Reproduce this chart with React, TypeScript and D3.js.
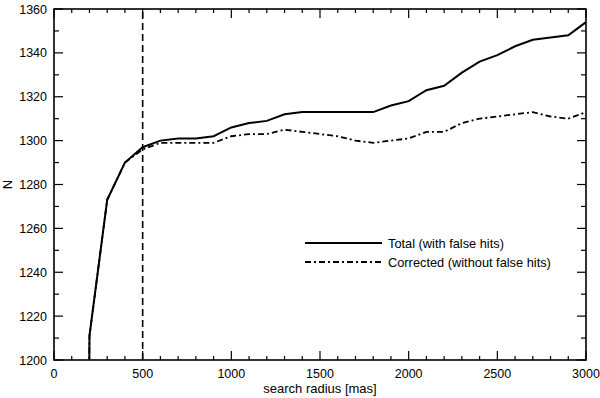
import React from "react";
import { scaleLinear, line, range } from "d3";

// search radius [mas]
const radius = [100, 200, 300, 400, 500, 600, 700, 800, 900, 1000, 1100, 1200, 1300, 1400, 1500,
  1600, 1700, 1800, 1900, 2000, 2100, 2200, 2300, 2400, 2500, 2600, 2700, 2800, 2900, 3000];

// N, total (with false hits)
const total = [150, 1211, 1273, 1290, 1297, 1300, 1301, 1301, 1302, 1306, 1308, 1309, 1312, 1313, 1313,
  1313, 1313, 1313, 1316, 1318, 1323, 1325, 1331, 1336, 1339, 1343, 1346, 1347, 1348, 1354];

// N, corrected (without false hits)
const corrected = [150, 1211, 1273, 1290, 1296, 1299, 1299, 1299, 1299, 1302, 1303, 1303, 1305, 1304, 1303,
  1302, 1300, 1299, 1300, 1301, 1304, 1304, 1308, 1310, 1311, 1312, 1313, 1311, 1310, 1313];

const xTickLabels = [0, 500, 1000, 1500, 2000, 2500, 3000];
const yTickLabels = [1200, 1220, 1240, 1260, 1280, 1300, 1320, 1340, 1360];
const cutRadius = 500;

const legendItems = [
  { label: "Total (with false hits)", dash: "none" },
  { label: "Corrected (without false hits)", dash: "6,3,2,3" },
];

const W = 600, H = 398;
const m = { left: 54, right: 14, top: 9, bottom: 38 };
const font = "'Liberation Sans', Arial, Helvetica, sans-serif";

export default function App() {
  const x = scaleLinear().domain([0, 3000]).range([m.left, W - m.right]);
  const y = scaleLinear().domain([1200, 1360]).range([H - m.bottom, m.top]);
  const x0 = x.range()[0], x1 = x.range()[1];
  const y0 = y.range()[0], y1 = y.range()[1];

  const path = line<number>()
    .x((_, i) => x(radius[i]))
    .y((d) => y(d));

  const xMinor = range(0, 3001, 100);
  const yMinor = range(1200, 1361, 10);

  return (
    <svg width={W} height={H} style={{ position: "absolute", left: 0, top: 0, background: "#fff" }}
      fontFamily={font}>
      <defs>
        <clipPath id="plot">
          <rect x={x0} y={y1} width={x1 - x0} height={y0 - y1} />
        </clipPath>
      </defs>

      {/* ticks, inward on all four sides */}
      <g stroke="#000" strokeWidth={1.2}>
        {xMinor.map((v) => {
          const len = v % 500 === 0 ? 9 : 4;
          return (
            <g key={"x" + v}>
              <line x1={x(v)} x2={x(v)} y1={y0} y2={y0 - len} />
              <line x1={x(v)} x2={x(v)} y1={y1} y2={y1 + len} />
            </g>
          );
        })}
        {yMinor.map((v) => {
          const len = v % 20 === 0 ? 9 : 5;
          return (
            <g key={"y" + v}>
              <line x1={x0} x2={x0 + len} y1={y(v)} y2={y(v)} />
              <line x1={x1} x2={x1 - len} y1={y(v)} y2={y(v)} />
            </g>
          );
        })}
      </g>

      <g clipPath="url(#plot)" fill="none" stroke="#000">
        <line x1={x(cutRadius)} x2={x(cutRadius)} y1={y0} y2={y1} strokeWidth={1.6} strokeDasharray="7,4" />
        <path d={path(corrected) || ""} strokeWidth={1.8} strokeDasharray={legendItems[1].dash} />
        <path d={path(total) || ""} strokeWidth={2} />
      </g>

      <rect x={x0} y={y1} width={x1 - x0} height={y0 - y1} fill="none" stroke="#000" strokeWidth={1.6} />

      <g fontSize={12.5} fill="#000">
        {xTickLabels.map((v) => (
          <text key={v} x={x(v)} y={y0 + 18} textAnchor="middle">{v}</text>
        ))}
        {yTickLabels.map((v) => (
          <text key={v} x={x0 - 7} y={y(v) + 4.5} textAnchor="end">{v}</text>
        ))}
      </g>

      <text x={(x0 + x1) / 2} y={H - 5} textAnchor="middle" fontSize={13}>search radius [mas]</text>
      <text transform={`translate(12,${(y0 + y1) / 2}) rotate(-90)`} textAnchor="middle" fontSize={13}>N</text>

      <g>
        {legendItems.map((d, i) => (
          <g key={d.label} transform={`translate(305,${243 + i * 19})`}>
            <line x1={0} x2={77} y1={0} y2={0} stroke="#000" strokeWidth={2} strokeDasharray={d.dash} />
            <text x={83} y={4.5} fontSize={12.8}>{d.label}</text>
          </g>
        ))}
      </g>
    </svg>
  );
}
